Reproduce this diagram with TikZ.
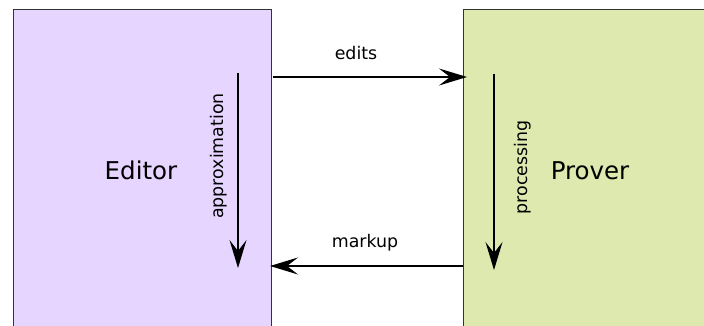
\documentclass[tikz,border=0pt]{standalone}
\usepackage{fontspec}
\setmainfont{DejaVu Sans}
\usetikzlibrary{arrows.meta}

\definecolor{editorfill}{HTML}{E5D5FF}
\definecolor{proverfill}{HTML}{DDE9AF}
\definecolor{boxedge}{HTML}{333333}

\begin{document}
\begin{tikzpicture}[x=1pt,y=-1pt,
  block/.style={draw=boxedge, line width=1.7pt, outer sep=0pt, inner sep=0pt,
                anchor=north west},
  flow/.style={line width=1.6pt, -{Stealth[length=28pt,width=17pt,inset=11pt]}},
  lbl/.style={font=\fontsize{17.4}{20}\selectfont, inner sep=0pt},
  big/.style={font=\fontsize{24.5}{28}\selectfont, inner sep=0pt}]

  \useasboundingbox (0,0) rectangle (704,326);
  \clip (0,0) rectangle (704,326);

  % the two components, running off the lower (and right) edge
  \node[block, fill=editorfill, minimum width=258pt, minimum height=340pt]
    (editor) at (13.5,9.5) {};
  \node[block, fill=proverfill, minimum width=260pt, minimum height=340pt]
    (prover) at (463.5,9.5) {};

  \node[big, anchor=base] (editorname) at (141,179) {Editor};
  \node[big, anchor=base] (provername) at (590,179) {Prover};

  % messages between the components
  \coordinate (editsA) at ([shift={(1.5,67.5)}]editor.north east);
  \coordinate (editsB) at ([shift={(3.5,67.5)}]prover.north west);
  \draw[flow] (editsA) -- (editsB);
  \node[lbl, anchor=base] (editslbl) at (356,59.5) {edits};

  \coordinate (markupA) at ([shift={(-1,256.5)}]prover.north west);
  \coordinate (markupB) at ([shift={(-1.5,256.5)}]editor.north east);
  \draw[flow] (markupA) -- (markupB);
  \node[lbl, anchor=base] (markuplbl) at (365,247.5) {markup};

  % internal work of each component
  \coordinate (approxA) at (238,73);
  \coordinate (approxB) at (238,268);
  \draw[flow] (approxA) -- (approxB);
  \node[lbl, rotate=90] (approxlbl) at (219,156) {approximation};

  \coordinate (procA) at (494,74);
  \coordinate (procB) at (494,270);
  \draw[flow] (procA) -- (procB);
  \node[lbl, rotate=90] (proclbl) at (522.5,167.5) {processing};
\end{tikzpicture}
\end{document}
